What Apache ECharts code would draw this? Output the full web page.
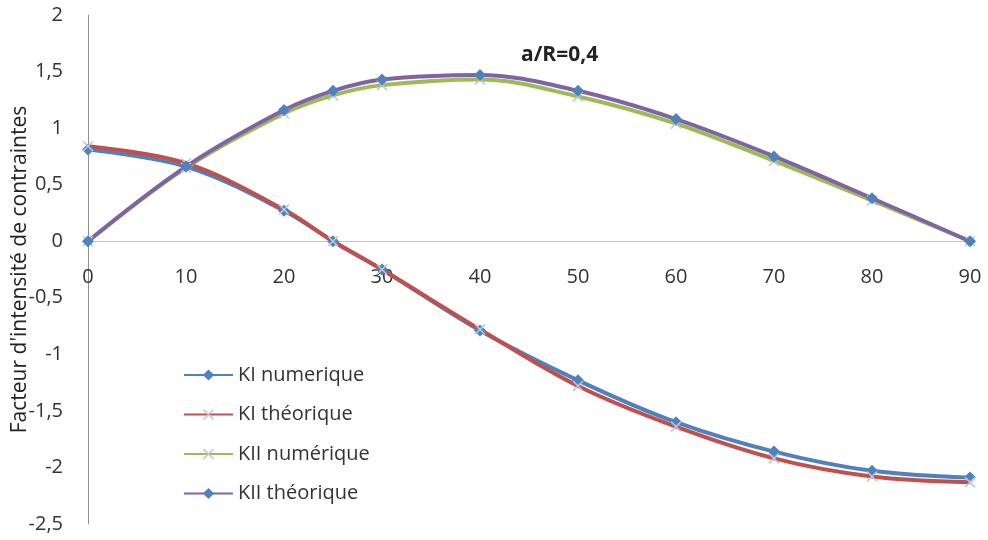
<!DOCTYPE html>
<html>
<head>
<meta charset="utf-8">
<script src="https://cdn.jsdelivr.net/npm/echarts@6/dist/echarts.min.js"></script>
<style>
  html, body { margin: 0; padding: 0; background: #fff; }
  #chart { width: 988px; height: 540px; }
</style>
</head>
<body>
<div id="chart"></div>
<script>
// Crack angle (degrees)
const angles = [0, 10, 20, 25, 30, 40, 50, 60, 70, 80, 90];

// Stress intensity factors
const kiNumerique  = [0.81, 0.66, 0.27, 0.00, -0.25, -0.79, -1.23, -1.60, -1.86, -2.03, -2.09];
const kiTheorique  = [0.84, 0.69, 0.28, 0.00, -0.25, -0.78, -1.28, -1.64, -1.92, -2.08, -2.13];
const kiiNumerique = [0.00, 0.65, 1.13, 1.29, 1.38, 1.43, 1.28, 1.04, 0.71, 0.36, 0.00];
const kiiTheorique = [0.00, 0.66, 1.16, 1.33, 1.43, 1.47, 1.33, 1.08, 0.75, 0.38, 0.00];

const seriesNames = ['KI numerique', 'KI théorique', 'KII numérique', 'KII théorique'];
const chartTitle = 'a/R=0,4';
const yAxisTitle = "Facteur d'intensité de contraintes";

const Y_MIN = -2.5, Y_MAX = 2, Y_STEP = 0.5;
const X_MIN = 0, X_MAX = 90, X_STEP = 10;

const crossPath = 'path://M0,1L1,0L5,4L9,0L10,1L6,5L10,9L9,10L5,6L1,10L0,9L4,5Z';
const fontFam = '"Open Sans", "Liberation Sans", sans-serif';

const CHART_H = 540;
const GRID = { left: 88, right: 18, top: 15, bottom: 16 };
// The horizontal axis sits on y = 0: lift it from the grid bottom by the
// share of the plot height that lies below zero.
const plotH = CHART_H - GRID.top - GRID.bottom;
const xAxisLift = plotH * (0 - Y_MIN) / (Y_MAX - Y_MIN);

function pairs(ys) { return angles.map((x, i) => [x, ys[i]]); }
function comma(v) { return String(v).replace('.', ','); }

function lineSeries(name, ys, lineColor, symbol, symbolColor, size) {
  return {
    name: name,
    type: 'line',
    data: pairs(ys),
    smooth: 0.35,
    symbol: symbol,
    symbolSize: size,
    showAllSymbol: true,
    lineStyle: { color: lineColor, width: 4 },
    itemStyle: { color: symbolColor },
    emphasis: { disabled: true }
  };
}

const chart = echarts.init(document.getElementById('chart'), null, { renderer: 'canvas' });
chart.setOption({
  animation: false,
  backgroundColor: '#ffffff',
  title: {
    text: chartTitle,
    left: 516, top: 40,
    textStyle: { fontFamily: fontFam, fontSize: 21, fontWeight: 'bold', color: '#222' }
  },
  legend: {
    orient: 'vertical',
    left: 178, top: 360,
    itemGap: 19.5,
    itemWidth: 49, itemHeight: 14,
    data: seriesNames,
    textStyle: { fontFamily: fontFam, fontSize: 20, color: '#333' }
  },
  grid: Object.assign({ containLabel: false, outerBoundsMode: 'none' }, GRID),
  xAxis: {
    type: 'value',
    min: X_MIN, max: X_MAX, interval: X_STEP,
    offset: -xAxisLift,
    axisLine: { onZero: false, lineStyle: { color: '#c4c4c4', width: 1 } },
    axisTick: { show: false },
    splitLine: { show: false },
    axisLabel: { margin: 26, fontFamily: fontFam, fontSize: 20, color: '#333' }
  },
  yAxis: {
    type: 'value',
    min: Y_MIN, max: Y_MAX, interval: Y_STEP,
    name: yAxisTitle,
    nameLocation: 'middle',
    nameGap: 57,
    nameMoveOverlap: false,
    nameTextStyle: { fontFamily: fontFam, fontSize: 21, color: '#222' },
    axisLine: { show: true, lineStyle: { color: '#909090', width: 1 } },
    axisTick: { show: false },
    splitLine: { show: false },
    axisLabel: { margin: 25, fontFamily: fontFam, fontSize: 20, color: '#333', formatter: comma }
  },
  series: [
    lineSeries(seriesNames[0], kiNumerique,  '#4F81BD', 'diamond', '#4F81BD', 12),
    lineSeries(seriesNames[1], kiTheorique,  '#C0504D', crossPath, '#B9C6DB', 11),
    lineSeries(seriesNames[2], kiiNumerique, '#9BBB59', crossPath, '#B9C6DB', 11),
    lineSeries(seriesNames[3], kiiTheorique, '#8064A2', 'diamond', '#4F81BD', 12)
  ]
});
</script>
</body>
</html>
